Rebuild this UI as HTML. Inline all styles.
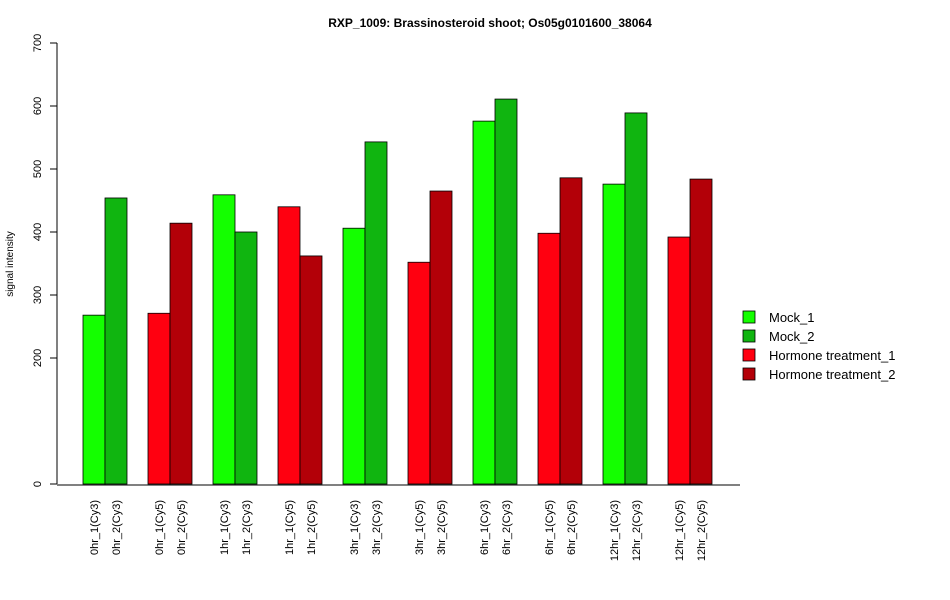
<!DOCTYPE html>
<html><head><meta charset="utf-8"><style>body{margin:0;background:#fff}svg{display:block;font-family:"Liberation Sans",Arial,sans-serif}</style></head>
<body>
<svg id="chart" width="950" height="600">
<text x="490" y="27" text-anchor="middle" font-size="12" font-weight="bold">RXP_1009: Brassinosteroid shoot; Os05g0101600_38064</text>
<text transform="translate(13,264) rotate(-90)" text-anchor="middle" font-size="10">signal intensity</text>
<g id="yaxis"></g>
<g id="bars"></g>
<g id="xlabels"></g>
<g id="legend"></g>
</svg>
<script>
const categories=["0hr_1(Cy3)","0hr_2(Cy3)","0hr_1(Cy5)","0hr_2(Cy5)","1hr_1(Cy3)","1hr_2(Cy3)","1hr_1(Cy5)","1hr_2(Cy5)","3hr_1(Cy3)","3hr_2(Cy3)","3hr_1(Cy5)","3hr_2(Cy5)","6hr_1(Cy3)","6hr_2(Cy3)","6hr_1(Cy5)","6hr_2(Cy5)","12hr_1(Cy3)","12hr_2(Cy3)","12hr_1(Cy5)","12hr_2(Cy5)"];
const values=[268,454,271,414,459,400,440,362,406,543,352,465,576,611,398,486,476,589,392,484];
const seriesIdx=[0,1,2,3,0,1,2,3,0,1,2,3,0,1,2,3,0,1,2,3];
const seriesNames=["Mock_1","Mock_2","Hormone treatment_1","Hormone treatment_2"];
const seriesColors=["#14ff00","#10b510","#ff0010","#b30008"];
const yTicks=[0,200,300,400,500,600,700];
const NS="http://www.w3.org/2000/svg";
const y=v=>484-v*0.63;
const x=i=>83+Math.floor(i/2)*65+(i%2)*22;
function mk(t,a,p){const e=document.createElementNS(NS,t);for(const k in a)e.setAttribute(k,a[k]);p.appendChild(e);return e;}
const ya=document.getElementById('yaxis');
mk('line',{x1:57,x2:57,y1:y(0),y2:y(700),stroke:'#000'},ya);
yTicks.forEach(t=>{mk('line',{x1:50,x2:57,y1:y(t),y2:y(t),stroke:'#000'},ya);
const tx=mk('text',{transform:`translate(41,${y(t)}) rotate(-90)`,'text-anchor':'middle','font-size':11},ya);tx.textContent=t;

});
mk('line',{x1:57,x2:740,y1:485,y2:485,stroke:'#000'},ya);
const bg=document.getElementById('bars'),xl=document.getElementById('xlabels');
values.forEach((v,i)=>{const r=mk('rect',{x:x(i),y:y(v),width:22,height:y(0)-y(v),fill:seriesColors[seriesIdx[i]],stroke:'#000','stroke-width':0.8},bg);


const t=mk('text',{transform:`translate(${x(i)+15},500) rotate(-90)`,'text-anchor':'end','font-size':11},xl);t.textContent=categories[i];

});
const lg=document.getElementById('legend');
seriesNames.forEach((n,i)=>{const g=mk('g',{},lg);


mk('rect',{x:743,y:311+i*19,width:12,height:12,fill:seriesColors[i],stroke:'#000','stroke-width':0.8},g);
const t=mk('text',{x:769,y:322+i*19,'font-size':13},g);t.textContent=n;});
</script>
</body></html>
